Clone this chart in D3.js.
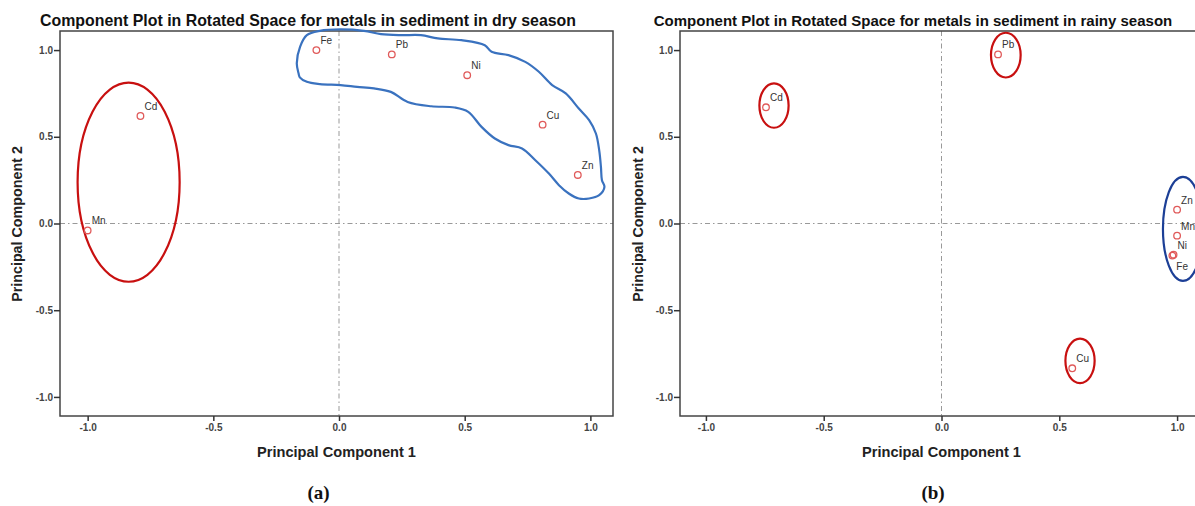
<!DOCTYPE html>
<html>
<head>
<meta charset="utf-8">
<script src="https://cdn.jsdelivr.net/npm/d3@7"></script>
<style>
  body { margin: 0; background: #fff; }
  text { font-family: "Liberation Sans", Arial, sans-serif; }
</style>
</head>
<body>
<svg id="chart" width="1195" height="506"></svg>
<script>
// loadings
const metals = ["Fe", "Pb", "Ni", "Cu", "Zn", "Cd", "Mn"]
const dryPC1 = [-0.09, 0.21, 0.51, 0.81, 0.95, -0.79, -1.0]
const dryPC2 = [1.0, 0.975, 0.855, 0.57, 0.28, 0.62, -0.04]
const rainyPC1 = [0.98, 0.24, 0.985, 0.555, 1.0, -0.745, 1.0]
const rainyPC2 = [-0.185, 0.975, -0.18, -0.835, 0.08, 0.67, -0.07]

const tickValues = [-1.0, -0.5, 0.0, 0.5, 1.0]

// hand drawn groupings (in loading units)
const dryRedEllipse = [{ cx: -0.837, cy: 0.238, rx: 0.203, ry: 0.574 }]
const dryBlobPC1 = [-0.161, -0.168, -0.155, -0.128, -0.076, 0.006, 0.099, 0.167, 0.246, 0.326, 0.393, 0.487,
  0.580, 0.607, 0.674, 0.741, 0.795, 0.848, 0.902, 0.954, 0.995, 1.022, 1.035, 1.042, 1.046, 1.056, 1.035,
  0.995, 0.954, 0.914, 0.875, 0.835, 0.781, 0.728, 0.674, 0.620, 0.567, 0.514, 0.460, 0.367, 0.273, 0.206,
  0.139, 0.072, 0.006, -0.076, -0.128, -0.156]
const dryBlobPC2 = [0.866, 0.924, 1.019, 1.086, 1.111, 1.119, 1.111, 1.092, 1.086, 1.086, 1.067, 1.057,
  1.028, 0.990, 0.971, 0.932, 0.875, 0.798, 0.750, 0.663, 0.596, 0.519, 0.423, 0.327, 0.250, 0.211, 0.163,
  0.144, 0.144, 0.173, 0.221, 0.288, 0.365, 0.433, 0.452, 0.490, 0.557, 0.644, 0.669, 0.676, 0.701, 0.759,
  0.779, 0.788, 0.798, 0.804, 0.817, 0.843]
const rainyRedEllipses = [
  { cx: -0.711, cy: 0.680, rx: 0.062, ry: 0.128 },
  { cx: 0.273, cy: 0.971, rx: 0.063, ry: 0.129 },
  { cx: 0.588, cy: -0.792, rx: 0.062, ry: 0.128 }
]
const rainyBlueEllipse = [{ cx: 1.025, cy: -0.031, rx: 0.085, ry: 0.30 }]

const svg = d3.select("#chart")
// SPSS writes a plain hyphen, not the unicode minus d3 uses
const fmt = v => d3.format(".1f")(v).replace("\u2212", "-")

function drawPanel(opt) {
  const x = d3.scaleLinear().domain(opt.xDomain).range([opt.left, opt.right])
  const y = d3.scaleLinear().domain([-1.11, 1.11]).range([416, 31])
  const g = svg.append("g")

  g.append("text")
    .attr("x", opt.titleX).attr("y", 26)
    .attr("text-anchor", "middle")
    .attr("font-size", opt.titleSize).attr("font-weight", "bold").attr("fill", "#111")
    .text(opt.title)

  // zero reference lines
  g.append("line")
    .attr("x1", x(0)).attr("x2", x(0)).attr("y1", 31).attr("y2", 416)
    .attr("stroke", "#999").attr("stroke-width", 1).attr("stroke-dasharray", "5,3,1.5,3")
  g.append("line")
    .attr("x1", opt.left).attr("x2", opt.right).attr("y1", y(0)).attr("y2", y(0))
    .attr("stroke", "#999").attr("stroke-width", 1).attr("stroke-dasharray", "5,3,1.5,3")

  // frame
  g.append("rect")
    .attr("x", opt.left).attr("y", 31)
    .attr("width", opt.right - opt.left).attr("height", 416 - 31)
    .attr("fill", "none").attr("stroke", "#444").attr("stroke-width", 1.5)

  const yAxis = g.append("g")
    .attr("transform", "translate(" + opt.left + ",0)")
    .call(d3.axisLeft(y).tickValues(tickValues).tickFormat(fmt).tickSize(6).tickPadding(1))
  const xAxis = g.append("g")
    .attr("transform", "translate(0,416)")
    .call(d3.axisBottom(x).tickValues(tickValues).tickFormat(fmt).tickSize(5).tickPadding(3))
  for (const ax of [xAxis, yAxis]) {
    ax.select(".domain").remove()
    ax.selectAll(".tick line").attr("stroke", "#333").attr("stroke-width", 1.5)
    ax.selectAll(".tick text")
      .attr("font-size", 10).attr("font-weight", "bold").attr("fill", "#444")
  }

  g.append("text")
    .attr("x", (opt.left + Math.min(opt.right, 1203)) / 2).attr("y", 457)
    .attr("text-anchor", "middle")
    .attr("font-size", 14.6).attr("font-weight", "bold").attr("fill", "#222")
    .text("Principal Component 1")
  g.append("text")
    .attr("transform", "translate(" + opt.yTitleX + ",224) rotate(-90)")
    .attr("text-anchor", "middle")
    .attr("font-size", 14.3).attr("font-weight", "bold").attr("fill", "#222")
    .text("Principal Component 2")

  // panel tag, serif like the paper's caption
  g.append("text")
    .attr("x", opt.tagX).attr("y", 499)
    .attr("text-anchor", "middle")
    .style("font-family", "'Liberation Serif', 'Times New Roman', serif")
    .attr("font-size", 19).attr("font-weight", "bold").attr("fill", "#111")
    .text(opt.tag)

  // groupings
  const kx = Math.abs(x(1) - x(0)), ky = Math.abs(y(1) - y(0))
  for (const e of opt.ellipses) {
    g.selectAll(null)
      .data(e.data)
      .enter()
      .append("ellipse")
      .attr("cx", d => x(d.cx)).attr("cy", d => y(d.cy))
      .attr("rx", d => d.rx * kx).attr("ry", d => d.ry * ky)
      .attr("fill", "none").attr("stroke", e.color).attr("stroke-width", 2.2)
  }
  if (opt.blob) {
    const line = d3.line()
      .x(d => x(d[0])).y(d => y(d[1]))
      .curve(d3.curveCatmullRomClosed)
    g.append("path")
      .attr("d", line(d3.zip(opt.blob[0], opt.blob[1])))
      .attr("fill", "none").attr("stroke", "#3a72bf").attr("stroke-width", 2.2)
  }

  // points + labels
  const pts = metals.map((m, i) => ({ name: m, pc1: opt.pc1[i], pc2: opt.pc2[i] }))
  g.selectAll(".pt")
    .data(pts)
    .enter()
    .append("circle")
    .attr("class", "pt")
    .attr("cx", d => x(d.pc1)).attr("cy", d => y(d.pc2))
    .attr("r", 3.3)
    .attr("fill", "none").attr("stroke", "#e05a5a").attr("stroke-width", 1.3)
  g.selectAll(".lbl")
    .data(pts)
    .enter()
    .append("text")
    .attr("class", "lbl")
    .attr("x", d => x(d.pc1) + 4)
    .attr("y", d => opt.below.includes(d.name) ? y(d.pc2) + 14 : y(d.pc2) - 6)
    .attr("font-size", 10).attr("fill", "#333")
    .text(d => d.name)
}

drawPanel({
  title: "Component Plot in Rotated Space for metals in sediment in dry season",
  titleX: 308, titleSize: 15.9,
  xDomain: [-1.11, 1.09], left: 60, right: 613,
  yTitleX: 22, tag: "(a)", tagX: 318.5,
  pc1: dryPC1, pc2: dryPC2,
  ellipses: [{ data: dryRedEllipse, color: "#c81010" }],
  blob: [dryBlobPC1, dryBlobPC2],
  below: []
})

drawPanel({
  title: "Component Plot in Rotated Space for metals in sediment in rainy season",
  titleX: 913, titleSize: 15,
  xDomain: [-1.11, 1.11], left: 680, right: 1203,
  yTitleX: 643, tag: "(b)", tagX: 933,
  pc1: rainyPC1, pc2: rainyPC2,
  ellipses: [
    { data: rainyRedEllipses, color: "#c81010" },
    { data: rainyBlueEllipse, color: "#1c3f96" }
  ],
  blob: null,
  below: ["Fe"]
})
</script>
</body>
</html>
